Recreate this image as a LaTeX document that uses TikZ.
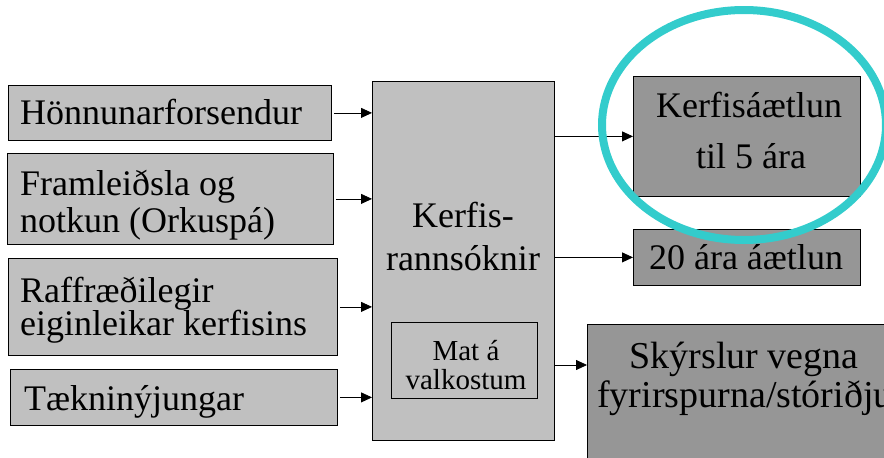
\documentclass[tikz,border=0pt]{standalone}
\usepackage{fontspec}
\setmainfont{Liberation Serif}
\usetikzlibrary{arrows.meta,shapes.geometric}
\definecolor{lgray}{RGB}{192,192,192}
\definecolor{dgray}{RGB}{150,150,150}
\definecolor{hlteal}{RGB}{51,204,204}
\begin{document}
\begin{tikzpicture}[x=1pt,y=-1pt,
  boxbase/.style={draw=black, line width=0.8pt, rectangle, anchor=north west, inner sep=0pt},
  lbox/.style={boxbase, fill=lgray},
  rbox/.style={boxbase, fill=dgray},
  ltxt/.style={anchor=base west, inner sep=0pt, font=\fontsize{36}{36}\selectfont},
  ctxt/.style={anchor=base, inner sep=0pt, font=\fontsize{#1}{#1}\selectfont},
  arr/.style={-{Triangle[length=11pt,width=10pt]}, line width=0.8pt, black}
]
\useasboundingbox (0,0) rectangle (884,458);
% left boxes
\node[lbox, minimum width=323pt, minimum height=55pt] (b1) at (8,85) {};
\node[lbox, minimum width=326pt, minimum height=91pt] (b2) at (7,153) {};
\node[lbox, minimum width=329pt, minimum height=97pt] (b3) at (8,258) {};
\node[lbox, minimum width=327pt, minimum height=56pt] (b4) at (10,369) {};
\node[ltxt] (b1a) at (20,124) {Hönnunarforsendur};
\node[ltxt] (b2a) at (20,195) {Framleiðsla og};
\node[ltxt] (b2b) at (20,232) {notkun (Orkuspá)};
\node[ltxt] (b3a) at (20,302) {Raffræðilegir};
\node[ltxt] (b3b) at (20,335) {eiginleikar kerfisins};
\node[ltxt] (b4a) at (24,410) {Tækninýjungar};
% main box
\node[boxbase, fill=lgray, minimum width=182pt, minimum height=359pt] (main) at (372,81) {};
\node[ctxt=36] (m1) at (463,227) {Kerfis-};
\node[ctxt=36] (m2) at (463,270) {rannsóknir};
\node[boxbase, fill=lgray, minimum width=146pt, minimum height=76pt] (mat) at (391,322) {};
\node[ctxt=29] (mat1) at (466,360) {Mat á};
\node[ctxt=29] (mat2) at (466,389) {valkostum};
% right boxes
\node[rbox, minimum width=227pt, minimum height=120pt] (k5) at (633,76) {};
\node[ctxt=36] (k5a) at (749,117) {Kerfisáætlun};
\node[ctxt=36] (k5b) at (751,168) {til 5 ára};
\node[rbox, minimum width=227pt, minimum height=56pt] (k20) at (633,229) {};
\node[ctxt=36] (k20a) at (746,269) {20 ára áætlun};
\node[rbox, minimum width=320pt, minimum height=200pt] (sk) at (587,324) {};
\node[ctxt=38] (ska) at (744,368) {Skýrslur vegna};
\node[ctxt=38] (skb) at (745,407) {fyrirspurna/stóriðju};
% arrows
\draw[arr] ([xshift=2pt]b1.east) -- (main.west |- b1.east);
\draw[arr] ([xshift=2pt]b2.east) -- (main.west |- b2.east);
\draw[arr] ([xshift=2pt]b3.east) -- (main.west |- b3.east);
\draw[arr] ([xshift=2pt]b4.east) -- (main.west |- b4.east);
\draw[arr] (main.east |- k5.west) -- (k5.west);
\draw[arr] (main.east |- k20.west) -- (k20.west);
\coordinate (skin) at ([yshift=-41pt]sk.north west);
\draw[arr] (main.east |- skin) -- (skin);
% highlight ellipse
\node[draw=hlteal, line width=8pt, ellipse, minimum width=284pt, minimum height=230pt, inner sep=0pt] (hl) at (744,125) {};
\end{tikzpicture}
\end{document}
